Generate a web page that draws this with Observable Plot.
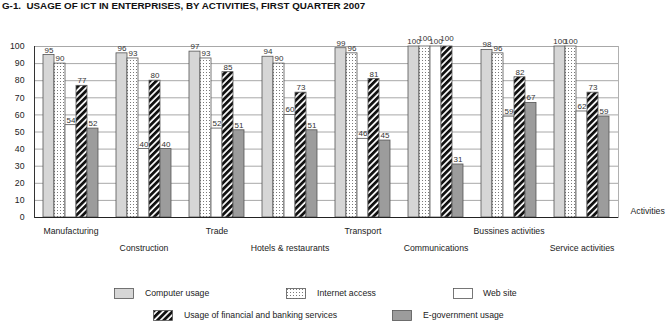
<!DOCTYPE html>
<html>
<head>
<meta charset="utf-8">
<script src="https://cdn.jsdelivr.net/npm/d3@7"></script>
<script src="https://cdn.jsdelivr.net/npm/@observablehq/plot@0.6"></script>
<style>
  body { margin: 0; background: white; }
  #wrap { position: relative; width: 667px; height: 322px; font-family: "Liberation Sans", Arial, sans-serif; color: #222; }
  #title { position: absolute; left: 2px; top: 0; font-size: 9.8px; line-height: 12px; font-weight: bold; white-space: pre; color: #111; }
  #pct { position: absolute; left: 30px; top: 25px; font-size: 8.7px; line-height: 10px; }
  #chart { position: absolute; left: 0; top: 14px; }
  .lg { position: absolute; font-size: 8.7px; line-height: 12px; white-space: nowrap; }
</style>
</head>
<body>
<svg width="0" height="0" style="position:absolute">
  <defs>
    <pattern id="dots" width="3" height="3" patternUnits="userSpaceOnUse">
      <rect width="3" height="3" fill="white"/>
      <rect x="1" y="1" width="1" height="1" fill="#7a7a7a"/>
    </pattern>
    <pattern id="stripes" width="4.5" height="4.5" patternUnits="userSpaceOnUse" patternTransform="rotate(45)">
      <rect width="4.5" height="4.5" fill="white"/>
      <rect width="2.8" height="4.5" fill="#111"/>
    </pattern>
  </defs>
</svg>
<div id="wrap">
  <div id="title">G-1.  USAGE OF ICT IN ENTERPRISES, BY ACTIVITIES, FIRST QUARTER 2007</div>
  <div id="pct">%</div>
  <div id="chart"></div>
  <div id="legend"></div>
</div>
<script>
const activities = ["Manufacturing", "Construction", "Trade", "Hotels & restaurants", "Transport", "Communications", "Bussines activities", "Service activities"];
const series = ["Computer usage", "Internet access", "Web site", "Usage of financial and banking services", "E-government usage"];
const computerUsage = [95, 96, 97, 94, 99, 100, 98, 100];
const internetAccess = [90, 93, 93, 90, 96, 100, 96, 100];
const webSite = [54, 40, 52, 60, 46, 100, 59, 62];
const financialServices = [77, 80, 85, 73, 81, 100, 82, 73];
const eGovernment = [52, 40, 51, 51, 45, 31, 67, 59];
const yTicks = [0, 10, 20, 30, 40, 50, 60, 70, 80, 90, 100];
const fills = ["#d6d6d6", "url(#dots)", "#ffffff", "url(#stripes)", "#9c9c9c"];

const valuesBySeries = [computerUsage, internetAccess, webSite, financialServices, eGovernment];
const data = activities.flatMap((a, i) => {
  const crowded = valuesBySeries.filter(v => v[i] === 100).length >= 3;
  return series.map((s, j) => ({activity: a, series: s, value: valuesBySeries[j][i], raised: crowded && j % 2 === 1}));
});
const cats = activities.map((a, i) => ({activity: a, i}));
const FONT = '"Liberation Sans", Arial, sans-serif';

const chart = Plot.plot({
  width: 667,
  height: 250,
  marginLeft: 32,
  marginRight: 47,
  marginTop: 32,
  marginBottom: 47,
  style: {fontFamily: FONT, fontSize: "8.7px", color: "#222", background: "white", overflow: "visible"},
  fx: {domain: activities, padding: 0, axis: null},
  x: {domain: series, paddingInner: 0, paddingOuter: 0.6, axis: null},
  y: {domain: [0, 100]},
  color: {domain: series, range: fills},
  marks: [
    Plot.gridY(yTicks, {stroke: "#a8a8a8", strokeOpacity: 1}),
    Plot.axisY(yTicks, {tickSize: 0, tickPadding: 10, label: null, fontSize: 8.7}),
    Plot.barY(data, {fx: "activity", x: "series", y: "value", fill: "series", stroke: "#555", strokeWidth: 0.8}),
    Plot.text(data.filter(d => !d.raised), {fx: "activity", x: "series", y: "value", text: d => String(d.value), dy: -5, fill: "#333", fontSize: 8}),
    Plot.text(data.filter(d => d.raised), {fx: "activity", x: "series", y: "value", text: d => String(d.value), dy: -8, fill: "#333", fontSize: 8}),
    Plot.ruleY([0], {stroke: "#222"}),
    Plot.frame({anchor: "left", facet: "super", stroke: "#333"}),
    Plot.frame({anchor: "right", facet: "super", stroke: "#b0b0b0"}),
    Plot.text(cats.filter(d => d.i % 2 === 0), {fx: "activity", text: "activity", frameAnchor: "bottom", dy: 16.5}),
    Plot.text(cats.filter(d => d.i % 2 === 1), {fx: "activity", text: "activity", frameAnchor: "bottom", dy: 33.5}),
    Plot.text(["Activities"], {facet: "super", frameAnchor: "bottom-right", textAnchor: "start", dx: 12, dy: -4})
  ]
});
document.getElementById("chart").appendChild(chart);

// legend
const legendPos = [
  {sx: 114, tx: 145, y: 293},
  {sx: 286, tx: 317, y: 293},
  {sx: 453, tx: 483, y: 293},
  {sx: 153, tx: 184, y: 315},
  {sx: 392, tx: 423, y: 315}
];
const lg = document.getElementById("legend");
series.forEach((s, j) => {
  const p = legendPos[j];
  const sw = document.createElementNS("http://www.w3.org/2000/svg", "svg");
  sw.setAttribute("width", 20); sw.setAttribute("height", 11);
  sw.style.position = "absolute"; sw.style.left = p.sx + "px"; sw.style.top = (p.y - 5.5) + "px";
  sw.innerHTML = `<rect x="0.5" y="0.5" width="19" height="10" fill="${fills[j]}" stroke="#555" stroke-width="0.8"/>`;
  lg.appendChild(sw);
  const t = document.createElement("div");
  t.className = "lg"; t.textContent = s;
  t.style.left = p.tx + "px"; t.style.top = (p.y - 6) + "px";
  lg.appendChild(t);
});
</script>
</body>
</html>
